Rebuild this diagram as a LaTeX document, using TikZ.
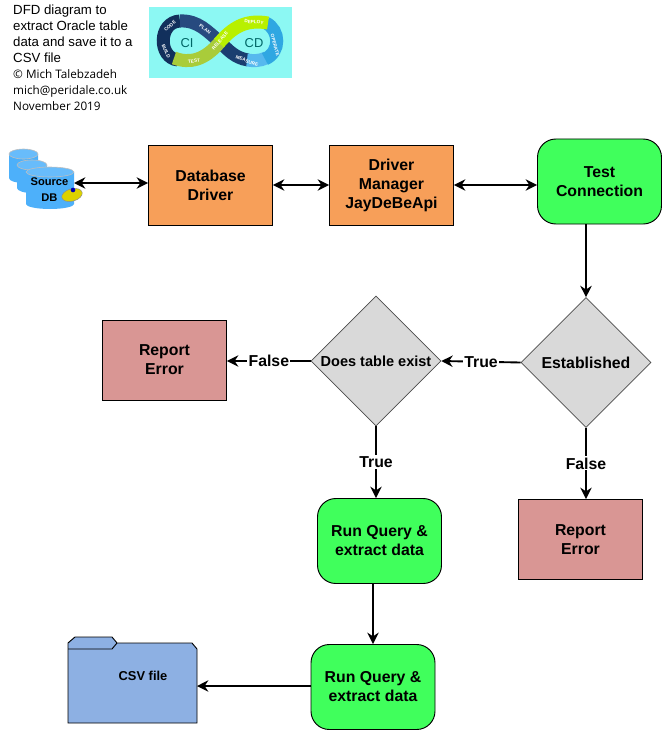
\documentclass[tikz,border=0pt]{standalone}
\usepackage{xcolor}
\usepackage{fontspec}
\setmainfont{Liberation Sans}
\newfontfamily\creditfont{Open Sans}
\usetikzlibrary{arrows.meta, shapes.geometric, positioning}

\definecolor{orangebox}{HTML}{F79F59}
\definecolor{greenbox}{HTML}{40FF5C}
\definecolor{redbox}{HTML}{D99694}
\definecolor{graybox}{HTML}{D9D9D9}
\definecolor{folderblue}{HTML}{8DB0E3}
\definecolor{dbblue}{HTML}{4DB0FA}
\definecolor{logobg}{HTML}{8CF8F3}

\begin{document}
\begin{tikzpicture}[
                x=0.03cm, y=-0.03cm,
                font=\bfseries\fontsize{13.5}{16.2}\selectfont,
                box/.style={rectangle, draw=black, line width=0.8pt, minimum width=3.72cm, minimum height=2.4cm, align=center, inner sep=0pt},
                orangestep/.style={box, fill=orangebox},
                errorstep/.style={box, fill=redbox},
                runstep/.style={box, fill=greenbox, rounded corners=0.55cm, minimum height=2.55cm},
                decision/.style={diamond, draw=black!70, line width=0.5pt, fill=graybox, aspect=1, minimum width=3.9cm, minimum height=3.9cm, inner sep=0pt},
                link/.style={line width=1.6pt, -{Stealth[length=3.4mm, width=3.4mm]}},
                twoway/.style={line width=1.6pt, {Stealth[length=3.4mm, width=3.4mm]}-{Stealth[length=3.4mm, width=3.4mm]}},
                flag/.style={fill=white, inner sep=1pt, midway},
                band/.style={line width=0.39cm},
                tiny/.style={text=white, font=\bfseries\fontsize{4}{5}\selectfont, inner sep=0pt}
            ]
                \useasboundingbox (0,0) rectangle (663,731);

                % Header
                \node[anchor=north west, align=left, inner sep=0pt, font=\fontsize{11.3}{13.65}\selectfont] (title) at (13,5)
                    {DFD diagram to\\extract Oracle table\\data and save it to a\\CSV file};
                \node[anchor=north west, align=left, inner sep=0pt, font=\creditfont\fontsize{10}{14}\selectfont] (credit) at (13,69)
                    {© Mich Talebzadeh\\mich@peridale.co.uk\\November 2019};

                % Logo
                \fill[logobg] (149,7) rectangle (292,78);
                \draw[band, color={rgb,255:red,18;green,48;blue,92}] (178,60) .. controls (158,58) and (158,22) .. (180,21);
                \draw[band, color={rgb,255:red,39;green,74;blue,127}] (180,21) .. controls (198,20) and (208,32) .. (220,42);
                \draw[band, color={rgb,255:red,26;green,62;blue,112}] (220,42) .. controls (228,50) and (235,58) .. (248,60);
                \draw[band, color={rgb,255:red,86;green,184;blue,238}] (247,60) .. controls (253,61) and (260,61) .. (266,58);
                \draw[band, color={rgb,255:red,47;green,167;blue,226}] (265,59) .. controls (281,52) and (280,30) .. (266,23);
                \draw[band, color={rgb,255:red,169;green,204;blue,58}] (174,58) .. controls (190,64) and (205,60) .. (220,42);
                \draw[band, color={rgb,255:red,184;green,240;blue,0}] (219,43) .. controls (232,28) and (245,19) .. (268,23);
                \node[text=teal!80!black, font=\fontsize{11}{12}\selectfont] (ci) at (187,43) {CI};
                \node[text=teal!80!black, font=\fontsize{11}{12}\selectfont] (cd) at (254,43) {CD};
                \node[tiny, rotate=40] (code) at (170,26) {CODE};
                \node[tiny, rotate=-35] (plan) at (205,29) {PLAN};
                \node[tiny, rotate=50] (release) at (220,41) {RELEASE};
                \node[tiny, rotate=-5] (deploy) at (254,22) {DEPLOY};
                \node[tiny, rotate=-75] (operate) at (275,45) {OPERATE};
                \node[tiny, rotate=-20] (measure) at (247,61) {MEASURE};
                \node[tiny, rotate=10] (test) at (194,61) {TEST};
                \node[tiny, rotate=-65] (build) at (166,51) {BUILD};

                % Source database
                \foreach \cx/\ytop/\ybot/\rx in {23.5/154/178/14.5, 32/165/188/15, 50/172/204/24} {
                    \fill[dbblue] (\cx-\rx,\ytop) -- (\cx-\rx,\ybot) arc[start angle=180, end angle=0, x radius=\rx, y radius=5]
                        -- (\cx+\rx,\ytop) -- cycle;
                    \draw[black!25, line width=0.5pt, fill=dbblue!85!white] (\cx,\ytop) ellipse[x radius=\rx, y radius=5];
                }
                \node[align=center, inner sep=0pt, font=\bfseries\fontsize{9.5}{13.6}\selectfont] (srcdb) at (49.5,190) {Source\\DB};
                \node[ellipse, draw=black!45, line width=0.4pt, fill=yellow!70!olive, minimum width=0.63cm, minimum height=0.37cm, inner sep=0pt, rotate=15] (disc) at (72,195) {};
                \fill[blue!70!black] (73,190) circle (0.07cm);

                % Nodes
                \node[orangestep] (driver) at (210.5,185) {Database\\Driver};
                \node[orangestep] (manager) at (391.5,185) {Driver\\Manager\\JayDeBeApi};
                \node[runstep] (connect) at (599.5,181.5) {Test\\Connection};
                \node[decision] (established) at (586,362.5) {Established};
                \node[decision, font=\bfseries\fontsize{12.4}{14}\selectfont] (exists) at (376,361) {Does table exist};
                \node[errorstep] (errorleft) at (164.5,360) {Report\\Error};
                \node[errorstep] (errorright) at (580.5,539.5) {Report\\Error};
                \node[runstep] (query) at (379.5,541) {Run Query \&\\extract data};
                \node[runstep] (save) at (373,687) {Run Query \&\\extract data};

                % CSV folder
                \draw[line width=0.8pt, fill=folderblue]
                    (68,643) -- (75,637) -- (112,637) -- (117,643) -- (192,643) -- (197,649)
                    -- (197,723) -- (68,723) -- cycle;
                \draw[line width=0.8pt] (68,649) -- (112,649) -- (117,643);
                \node[font=\bfseries\fontsize{11}{13}\selectfont] (csvname) at (143,676) {CSV file};
                \coordinate (csvedge) at (197,686);
                \coordinate (dbedge) at (74,183);

                % Edges
                \draw[twoway] (dbedge) -- (dbedge -| driver.west);
                \draw[twoway] (driver) -- (manager);
                \draw[twoway] (manager.east) -- (manager.east -| connect.west);
                \draw[link] (connect.south -| established.north) -- (established.north);
                \draw[link] (established.west) -- node[flag] {True} (exists.east);
                \draw[link] (exists.west) -- node[flag] {False} (errorleft.east |- exists.west);
                \draw[link] (exists.south) -- node[flag] {True} (exists.south |- query.north);
                \draw[link] (established.south) -- node[flag] {False} (established.south |- errorright.north);
                \draw[link] (query.south -| save.north) -- (save.north);
                \draw[link] (save.west |- csvedge) -- (csvedge);
            \end{tikzpicture}
\end{document}
